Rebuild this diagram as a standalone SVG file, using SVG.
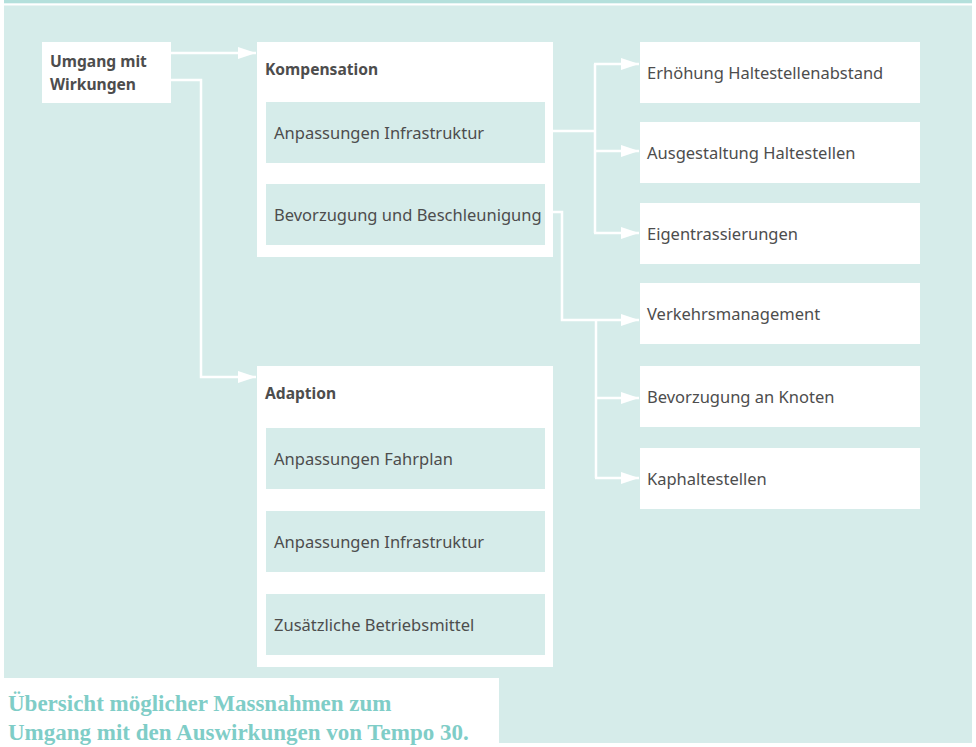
<svg xmlns="http://www.w3.org/2000/svg" width="976" height="747" viewBox="0 0 976 747">
<defs>
<style>
.bg{fill:#d6ecea}
.box{fill:#ffffff}
.inner{fill:#d6ecea}
.t{font-family:"Noto Sans","Open Sans",sans-serif;font-size:16.5px;fill:#4d4d4d}
.b{font-weight:bold;font-size:15.6px}
.cap{font-family:"Liberation Serif",serif;font-size:23px;font-weight:bold;fill:#7fcdc7}
.c{fill:none;stroke:#ffffff;stroke-width:2.5}
</style>
<marker id="ah" markerUnits="userSpaceOnUse" markerWidth="18" markerHeight="12" refX="18" refY="6" orient="auto">
<path d="M0,0 L18,6 L0,12 z" fill="#ffffff"/>
</marker>
</defs>
<rect x="0" y="0" width="976" height="747" fill="#ffffff"/>
<rect x="4" y="0" width="968" height="3.3" fill="#b4e0dc"/>
<rect class="bg" x="4" y="5.5" width="968" height="737.5"/>
<rect x="0" y="678" width="499" height="69" fill="#ffffff"/>

<g id="connectors">
<path class="c" d="M171,53 H256" marker-end="url(#ah)"/>
<path class="c" d="M171,80 H201 V377 H256" marker-end="url(#ah)"/>
<path class="c" d="M545,131 H595"/>
<path class="c" d="M595,64 V233"/>
<path class="c" d="M594,64 H639" marker-end="url(#ah)"/>
<path class="c" d="M594,151 H639" marker-end="url(#ah)"/>
<path class="c" d="M594,233 H639" marker-end="url(#ah)"/>
<path class="c" d="M545,212 H562 V320 H639" marker-end="url(#ah)"/>
<path class="c" d="M596,320 V478"/>
<path class="c" d="M595,398 H639" marker-end="url(#ah)"/>
<path class="c" d="M595,478 H639" marker-end="url(#ah)"/>
</g>

<g id="umgang">
<rect class="box" x="42" y="42" width="129" height="61"/>
<text class="t b" x="50" y="67">Umgang mit</text>
<text class="t b" x="50" y="90">Wirkungen</text>
</g>

<g id="kompensation">
<rect class="box" x="257" y="42" width="296" height="215"/>
<text class="t b" x="265" y="75">Kompensation</text>
<g id="k-infrastruktur">
<rect class="inner" x="266" y="102" width="279" height="61"/>
<text class="t" x="274" y="139">Anpassungen Infrastruktur</text>
</g>
<g id="k-bevorzugung">
<rect class="inner" x="266" y="184" width="279" height="61"/>
<text class="t" x="274" y="221">Bevorzugung und Beschleunigung</text>
</g>
</g>

<g id="adaption">
<rect class="box" x="257" y="366" width="296" height="301"/>
<text class="t b" x="265" y="399">Adaption</text>
<g id="a-fahrplan">
<rect class="inner" x="266" y="428" width="279" height="61"/>
<text class="t" x="274" y="465">Anpassungen Fahrplan</text>
</g>
<g id="a-infrastruktur">
<rect class="inner" x="266" y="511" width="279" height="61"/>
<text class="t" x="274" y="548">Anpassungen Infrastruktur</text>
</g>
<g id="a-betriebsmittel">
<rect class="inner" x="266" y="594" width="279" height="61"/>
<text class="t" x="274" y="631">Zusätzliche Betriebsmittel</text>
</g>
</g>

<g id="r1">
<rect class="box" x="640" y="42" width="280" height="61"/>
<text class="t" x="647" y="79">Erhöhung Haltestellenabstand</text>
</g>
<g id="r2">
<rect class="box" x="640" y="122" width="280" height="61"/>
<text class="t" x="647" y="159">Ausgestaltung Haltestellen</text>
</g>
<g id="r3">
<rect class="box" x="640" y="203" width="280" height="61"/>
<text class="t" x="647" y="240">Eigentrassierungen</text>
</g>
<g id="r4">
<rect class="box" x="640" y="283" width="280" height="61"/>
<text class="t" x="647" y="320">Verkehrsmanagement</text>
</g>
<g id="r5">
<rect class="box" x="640" y="366" width="280" height="61"/>
<text class="t" x="647" y="403">Bevorzugung an Knoten</text>
</g>
<g id="r6">
<rect class="box" x="640" y="448" width="280" height="61"/>
<text class="t" x="647" y="485">Kaphaltestellen</text>
</g>

<g id="caption">
<text class="cap" x="8" y="711">Übersicht möglicher Massnahmen zum</text>
<text class="cap" x="8" y="740">Umgang mit den Auswirkungen von Tempo 30.</text>
</g>
</svg>
